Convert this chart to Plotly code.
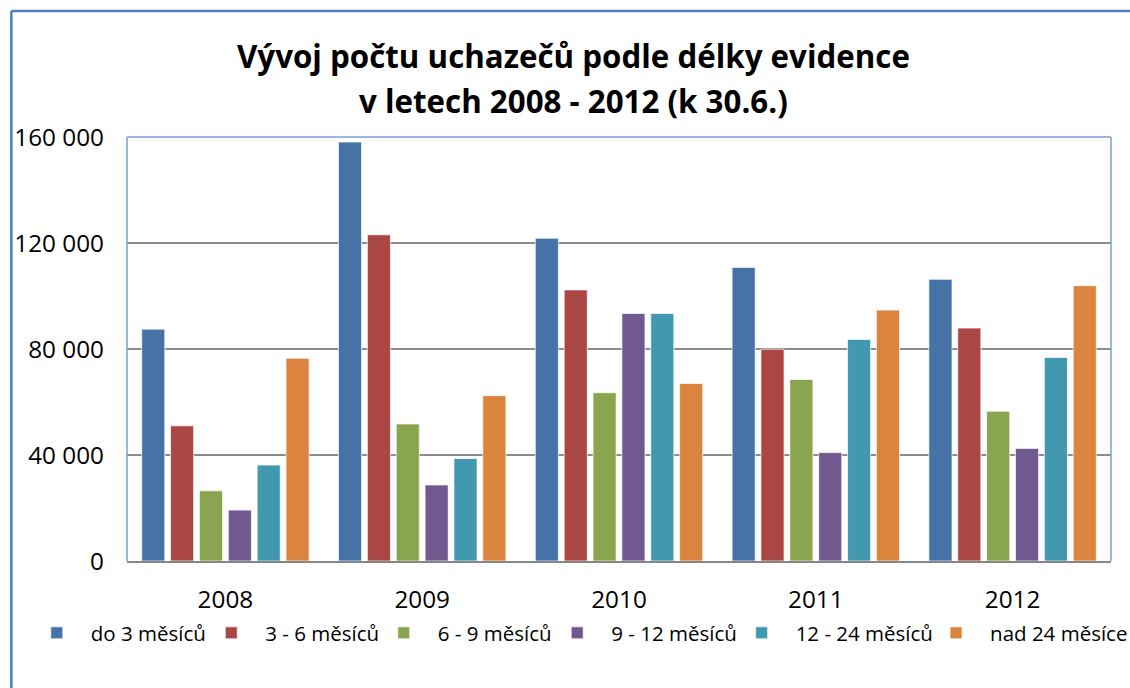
import plotly.graph_objects as go

years = ["2008", "2009", "2010", "2011", "2012"]
series_names = ["do 3 měsíců", "3 - 6 měsíců", "6 - 9 měsíců", "9 - 12 měsíců", "12 - 24 měsíců", "nad 24 měsíce"]
do_3 = [87500, 158100, 121800, 110800, 106300]
m3_6 = [51000, 123100, 102300, 79900, 87900]
m6_9 = [26500, 51700, 63500, 68500, 56500]
m9_12 = [19200, 28700, 93400, 40900, 42500]
m12_24 = [36200, 38700, 93400, 83600, 76800]
nad_24 = [76500, 62400, 67000, 94700, 103900]
values = [do_3, m3_6, m6_9, m9_12, m12_24, nad_24]
colors = ["#4572A7", "#AA4643", "#89A54E", "#71588F", "#4198AF", "#DB843D"]
# page x of each legend swatch centre (layout)
legend_marker_x = [57, 232, 405, 579, 764, 959]

# horizontal compensation for the capture (page appears ~1145 px wide squeezed to 1130)
K = 1145 / 1130
W, H = 1145, 688
# target page-pixel positions of the plot area
L, R, T, B = 125, 1112, 137, 561


def px(x):
    return (x - L) / (R - L)


def py(y):
    return (B - y) / (B - T)


FONT = "Open Sans"
ITEMW = 58
SYM_OFF = 37 / K

fig = go.Figure()
legends = {}
for i, (name, vals, col, mx) in enumerate(zip(series_names, values, colors, legend_marker_x)):
    key = "legend" if i == 0 else f"legend{i + 1}"
    fig.add_trace(go.Bar(
        x=years, y=vals, name=name, legend=key,
        marker=dict(color=col, line=dict(color="rgba(255,255,255,0.7)", width=1)),
    ))
    legends[key] = dict(
        orientation="h", x=px(mx - SYM_OFF), xanchor="left", y=py(633), yanchor="middle",
        font=dict(family=FONT, size=20.5, color="black"),
        itemwidth=ITEMW, bgcolor="rgba(0,0,0,0)",
    )

fig.update_layout(
    width=W, height=H,
    margin=dict(l=L * K, r=W - R * K, t=T, b=H - B),
    paper_bgcolor="white", plot_bgcolor="white",
    barmode="group", bargap=0.12, bargroupgap=0.2,
    separators=", ",
    font=dict(family=FONT, size=23, color="black"),
    showlegend=True,
    xaxis=dict(
        showline=True, linecolor="#868686", linewidth=2, ticks="",
        ticklabelstandoff=16, tickfont=dict(size=24.3),
    ),
    yaxis=dict(
        range=[0, 160000], dtick=40000, tick0=0, tickformat=",d",
        showgrid=True, gridcolor="#8C8C8C", gridwidth=1.5,
        zeroline=False, showline=False, ticks="",
        ticklabelstandoff=22, tickfont=dict(size=24.3),
    ),
    annotations=[
        dict(text="<b>Vývoj počtu uchazečů podle délky evidence</b>", xref="paper", yref="paper",
             x=px(573), y=py(56), xanchor="center", yanchor="middle", showarrow=False,
             font=dict(family=FONT, size=31.3, color="black")),
        dict(text="<b>v letech 2008 - 2012 (k 30.6.)</b>", xref="paper", yref="paper",
             x=px(573), y=py(101), xanchor="center", yanchor="middle", showarrow=False,
             font=dict(family=FONT, size=31.3, color="black")),
    ],
    shapes=[
        dict(type="line", xref="paper", yref="paper", x0=px(9), x1=px(1170), y0=py(11), y1=py(11),
             line=dict(color="#4F81BD", width=2.5)),
        dict(type="line", xref="paper", yref="paper", x0=px(9), x1=px(9), y0=py(11), y1=py(720),
             line=dict(color="#4F81BD", width=2.5)),
        dict(type="line", xref="paper", yref="paper", x0=0, x1=0, y0=0, y1=1,
             line=dict(color="#7AA0D0", width=1.5)),
        dict(type="line", xref="paper", yref="paper", x0=0, x1=1, y0=1, y1=1,
             line=dict(color="#7AA0D0", width=1.5)),
        dict(type="line", xref="paper", yref="paper", x0=1, x1=1, y0=0, y1=1,
             line=dict(color="#7AA0D0", width=1.5)),
    ],
    **legends,
)

fig.write_html(
    "out.html",
    config={"displayModeBar": False},
    post_script="document.body.style.margin='0px';document.body.style.overflow='hidden';",
)
